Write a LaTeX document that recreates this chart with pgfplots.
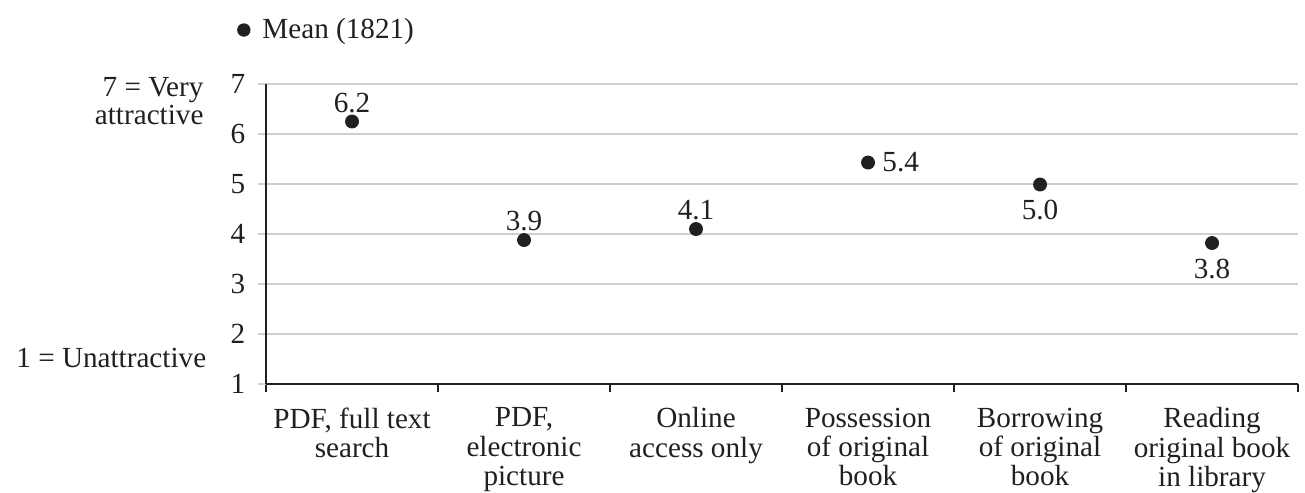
\documentclass[border=0pt]{standalone}
\usepackage{pgfplots}
\usepackage{pgfplotstable}
\pgfplotsset{compat=1.18}
\usepackage{fontspec}
\setmainfont{Liberation Serif}
\definecolor{ink}{HTML}{231F20}
\definecolor{gridgray}{HTML}{CFCFCF}

% labels above the point
\pgfplotstableread{
x y label
0 6.25 6.2
1 3.88 3.9
2 4.10 4.1
}\meanabove
% label right of the point
\pgfplotstableread{
x y label
3 5.43 5.4
}\meanright
% labels below the point
\pgfplotstableread{
x y label
4 4.99 5.0
5 3.82 3.8
}\meanbelow

\newcommand\chartfont{\fontsize{10.5}{10.6}\selectfont}

\begin{document}
\begin{tikzpicture}
\begin{axis}[name=ax,
  scale only axis, width=371.5pt, height=108pt,
  xmin=-0.5, xmax=5.5, ymin=1, ymax=7,
  axis x line*=bottom, axis y line*=left,
  axis line style={ink, line width=0.8pt},
  xtick={0,...,5},
  xticklabels={{PDF, full text\\search}, {PDF,\\electronic\\picture}, {Online\\access only},
    {Possession\\of original\\book}, {Borrowing\\of original\\book}, {Reading\\original book\\in library}},
  xticklabel style={align=center, font=\chartfont, text=ink, yshift=-2pt},
  every major x tick/.append style={draw=none},
  minor xtick={-0.5,0.5,...,5.5},
  every minor x tick/.append style={draw=ink, line width=0.8pt},
  minor tick length=3pt,
  ytick={1,...,7},
  ymajorgrids, grid style={gridgray, line width=0.6pt},
  y tick style={gridgray, line width=0.6pt}, tick align=outside, major tick length=3pt,
  yticklabel style={font=\chartfont, text=ink, xshift=-1pt},
  /pgf/number format/assume math mode=true,
  legend style={draw=none, fill=none, at={(-0.045,1.18)}, anchor=west, inner sep=0pt,
    font=\chartfont, text=ink},
  legend image code/.code={\fill[ink] (0.3cm,0cm) circle (2.2pt); \path[draw=none] (0,0) -- (0.3cm+4.7pt,0);},
  clip=false,
  every node near coord/.append style={font=\chartfont, text=ink},
]
\addplot[only marks, mark=*, mark size=2.3pt, ink,
  point meta=explicit symbolic, nodes near coords,
  nodes near coords style={anchor=south, inner sep=3pt},
] table[x=x, y=y, meta=label] {\meanabove};
\addlegendentry{Mean (1821)}
\addplot[only marks, mark=*, mark size=2.3pt, ink, forget plot,
  point meta=explicit symbolic, nodes near coords,
  nodes near coords style={anchor=west, inner sep=5pt},
] table[x=x, y=y, meta=label] {\meanright};
\addplot[only marks, mark=*, mark size=2.3pt, ink, forget plot,
  point meta=explicit symbolic, nodes near coords,
  nodes near coords style={anchor=north, inner sep=5.5pt},
] table[x=x, y=y, meta=label] {\meanbelow};
\node[anchor=east, align=right, text=ink, font=\fontsize{10.5}{9.8}\selectfont]
  at ([xshift=-19pt]axis cs:-0.5,6.66) {7 = Very\\attractive};
\node[anchor=east, text=ink, font=\chartfont]
  at ([xshift=-18pt]axis cs:-0.5,1.52) {1 = Unattractive};
\end{axis}
\pgfresetboundingbox
\path ([shift={(-95.76pt,-38.88pt)}]ax.south west) rectangle ([shift={(374pt,138.24pt)}]ax.south west);
\end{tikzpicture}
\end{document}
